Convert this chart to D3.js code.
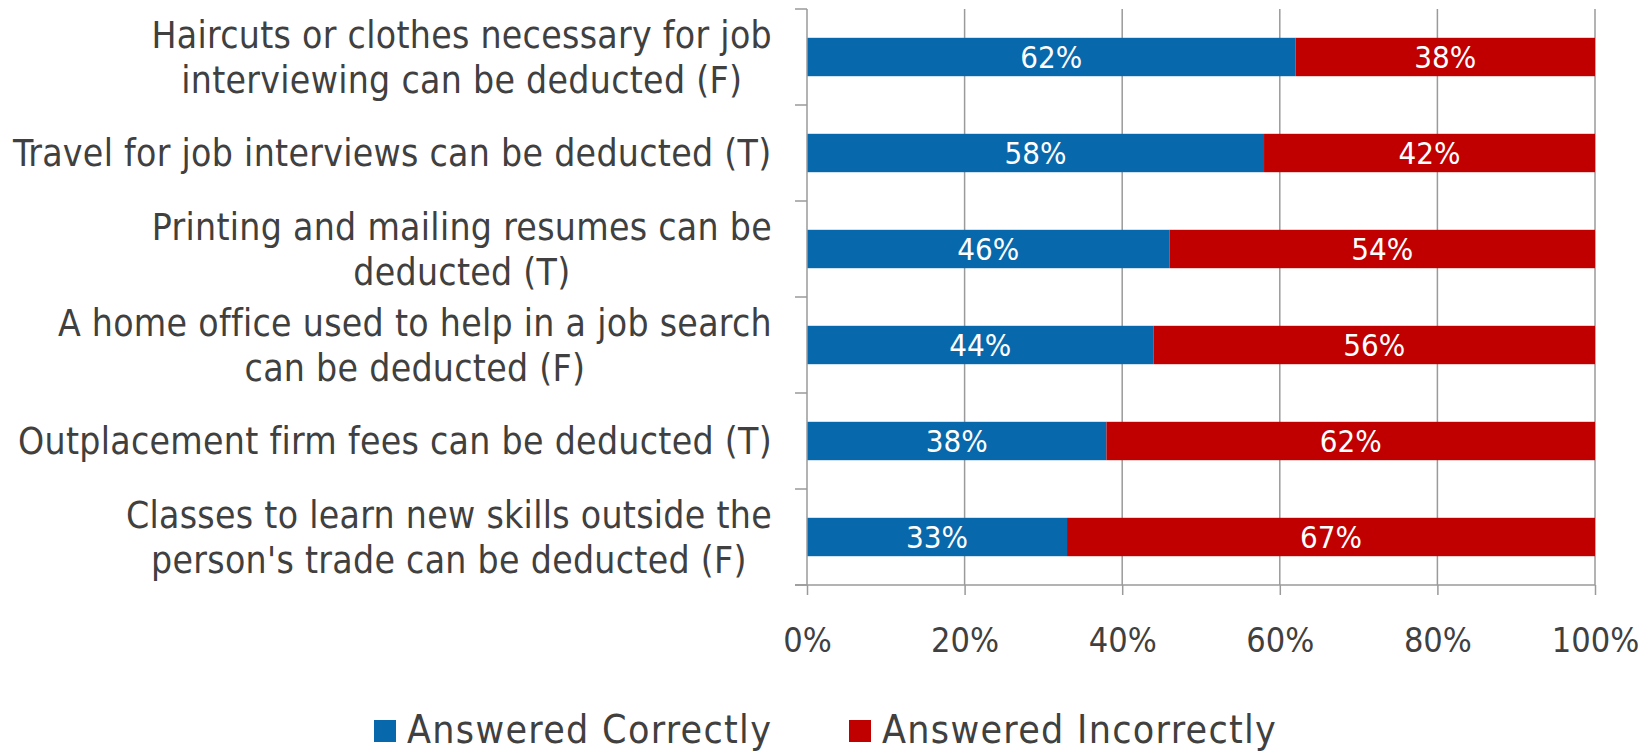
<!DOCTYPE html>
<html>
<head>
<meta charset="utf-8">
<script src="https://cdn.jsdelivr.net/npm/d3@7"></script>
<style>
  body { margin: 0; background: #fff; }
  svg text { font-family: "DejaVu Sans Condensed", "DejaVu Sans", sans-serif; }
</style>
</head>
<body>
<div id="chart"></div>
<script>
// data
const categories = [
  ['Haircuts or clothes necessary for job', 'interviewing can be deducted (F)'],
  ['Travel for job interviews can be deducted (T)'],
  ['Printing and mailing resumes can be', 'deducted (T)'],
  ['A home office used to help in a job search', 'can be deducted (F)'],
  ['Outplacement firm fees can be deducted (T)'],
  ['Classes to learn new skills outside the', "person's trade can be deducted (F)"]
];
const correct = [62, 58, 46, 44, 38, 33];
const incorrect = [38, 42, 54, 56, 62, 67];
const seriesNames = ['Answered Correctly', 'Answered Incorrectly'];
const xTicks = [0, 20, 40, 60, 80, 100];

const colors = ['#0868AC', '#C00000'];
const W = 1652, H = 753;
const m = { top: 9, left: 807, right: 57, bottom: 168 };
const width = W - m.left - m.right,
  height = H - m.top - m.bottom;

const svg = d3.select('#chart').append('svg')
  .attr('width', W)
  .attr('height', H);

const g = svg.append('g')
  .attr('transform', 'translate(' + m.left + ',' + m.top + ')');

const keys = categories.map((d, i) => i);
const x = d3.scaleLinear().domain([0, 100]).range([0, width]);
const y = d3.scaleBand().domain(keys).range([0, height]).paddingInner(0.6).paddingOuter(0.3);
const yTickScale = d3.scaleLinear().domain([0, categories.length]).range([0, height]);

// grid lines
g.append('g')
  .selectAll('line')
  .data(xTicks.slice(1))
  .enter()
  .append('line')
  .attr('x1', d => x(d)).attr('x2', d => x(d))
  .attr('y1', 0).attr('y2', height)
  .attr('stroke', '#9a9a9a')
  .attr('stroke-width', 1.5);

// stacked data
const stackData = keys.map(i => ({ i: i, c: correct[i], w: incorrect[i] }));
const stack = d3.stack().keys(['c', 'w'])(stackData);

const layers = g.append('g')
  .selectAll('g')
  .data(stack)
  .enter()
  .append('g')
  .attr('fill', (d, i) => colors[i]);

layers.selectAll('rect')
  .data(d => d)
  .enter()
  .append('rect')
  .attr('x', d => x(d[0]))
  .attr('width', d => x(d[1]) - x(d[0]))
  .attr('y', d => y(d.data.i))
  .attr('height', y.bandwidth());

layers.selectAll('text')
  .data(d => d)
  .enter()
  .append('text')
  .attr('x', d => (x(d[0]) + x(d[1])) / 2)
  .attr('y', d => y(d.data.i) + y.bandwidth() / 2)
  .attr('dy', '0.36em')
  .attr('text-anchor', 'middle')
  .attr('fill', '#fff')
  .style('font-size', '31px')
  .text(d => (d[1] - d[0]) + '%');

// y axis
const yAxisG = g.append('g');
yAxisG.append('line')
  .attr('x1', 0).attr('x2', 0).attr('y1', 0).attr('y2', height)
  .attr('stroke', '#9a9a9a').attr('stroke-width', 1.5);
yAxisG.selectAll('.ytick')
  .data(d3.range(categories.length + 1))
  .enter()
  .append('line')
  .attr('x1', -12).attr('x2', 0)
  .attr('y1', d => yTickScale(d)).attr('y2', d => yTickScale(d))
  .attr('stroke', '#9a9a9a').attr('stroke-width', 1.5);

const catLabels = yAxisG.selectAll('.cat')
  .data(categories)
  .enter()
  .append('text')
  .attr('text-anchor', 'middle')
  .attr('fill', '#404040')
  .style('font-size', '37px')
  .style('letter-spacing', '0.3px');

catLabels.each(function(lines, i) {
  const t = d3.select(this);
  const cy = y(i) + y.bandwidth() / 2;
  const lh = 45;
  const y0 = cy - (lines.length - 1) * lh / 2;
  lines.forEach((ln, j) => {
    t.append('tspan')
      .attr('x', 0)
      .attr('y', y0 + j * lh)
      .attr('dy', '0.36em')
      .text(ln);
  });
  // right-align block, centre lines inside it
  const bw = this.getBBox().width;
  t.selectAll('tspan').attr('x', -35 - bw / 2);
});

// x axis
const xAxis = d3.axisBottom(x).tickValues(xTicks).tickSize(10).tickPadding(33).tickFormat(d => d + '%');
const xAxisG = g.append('g')
  .attr('transform', 'translate(0,' + height + ')')
  .call(xAxis);
xAxisG.select('.domain').remove();
xAxisG.append('line')
  .attr('x1', -12).attr('x2', width).attr('y1', 0).attr('y2', 0)
  .attr('stroke', '#9a9a9a').attr('stroke-width', 1.5);
xAxisG.selectAll('.tick line').attr('stroke', '#9a9a9a').attr('stroke-width', 1.5);
xAxisG.selectAll('.tick text')
  .attr('fill', '#404040')
  .style('font-size', '34px');

// legend
const legend = svg.append('g')
  .attr('transform', 'translate(374,729)');
const legendX = [0, 475];
seriesNames.forEach((name, i) => {
  const lg = legend.append('g').attr('transform', 'translate(' + legendX[i] + ',0)');
  lg.append('rect')
    .attr('x', 0).attr('y', -9)
    .attr('width', 22).attr('height', 22)
    .attr('fill', colors[i]);
  lg.append('text')
    .attr('x', 33).attr('y', 0)
    .attr('dy', '0.36em')
    .attr('fill', '#404040')
    .style('font-size', '39px')
    .style('letter-spacing', '1.3px')
    .text(name);
});
</script>
</body>
</html>
